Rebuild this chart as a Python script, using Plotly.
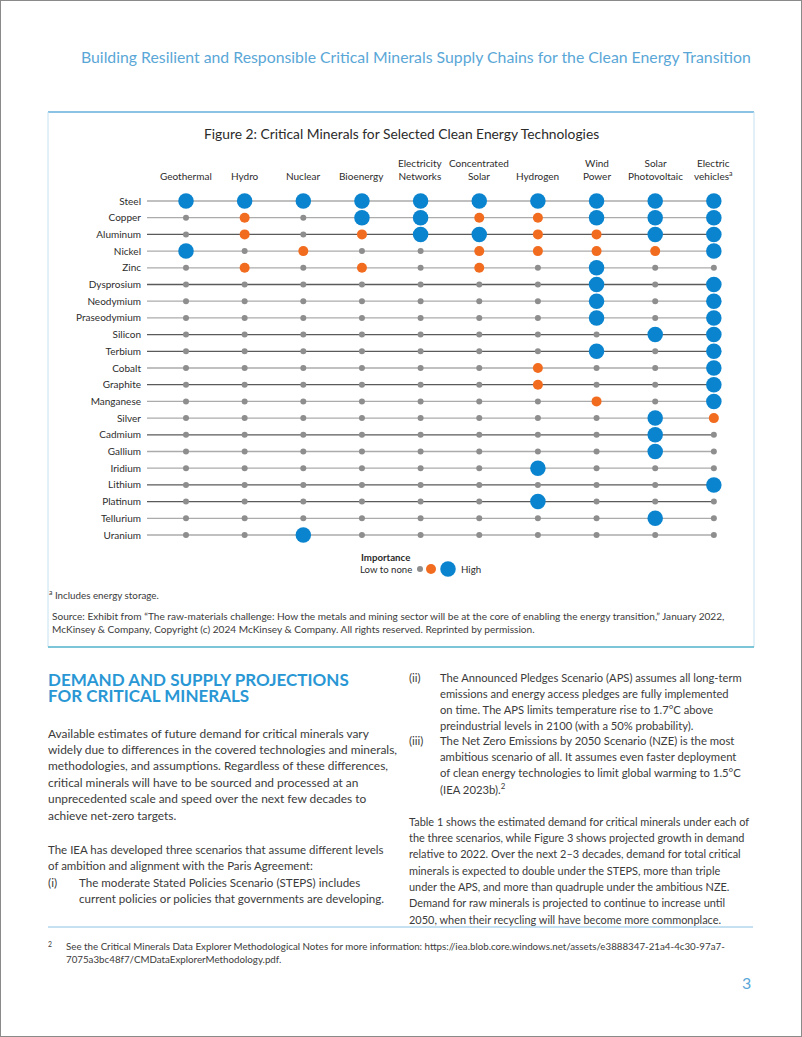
import plotly.graph_objects as go

W, H = 802, 1037

technologies = ["Geothermal", "Hydro", "Nuclear", "Bioenergy", "Electricity<br>Networks",
                "Concentrated<br>Solar", "Hydrogen", "Wind<br>Power", "Solar<br>Photovoltaic",
                "Electric<br>vehicles<sup>a</sup>"]
minerals = ["Steel", "Copper", "Aluminum", "Nickel", "Zinc", "Dysprosium", "Neodymium",
            "Praseodymium", "Silicon", "Terbium", "Cobalt", "Graphite", "Manganese", "Silver",
            "Cadmium", "Gallium", "Iridium", "Lithium", "Platinum", "Tellurium", "Uranium"]
# importance: 0 = low to none, 1 = medium, 2 = high  (columns in technology order)
importance = [
    [2, 2, 2, 2, 2, 2, 2, 2, 2, 2],  # Steel
    [0, 1, 0, 2, 2, 1, 1, 2, 2, 2],  # Copper
    [0, 1, 0, 1, 2, 2, 1, 1, 2, 2],  # Aluminum
    [2, 0, 1, 0, 0, 1, 1, 1, 1, 2],  # Nickel
    [0, 1, 0, 1, 0, 1, 0, 2, 0, 0],  # Zinc
    [0, 0, 0, 0, 0, 0, 0, 2, 0, 2],  # Dysprosium
    [0, 0, 0, 0, 0, 0, 0, 2, 0, 2],  # Neodymium
    [0, 0, 0, 0, 0, 0, 0, 2, 0, 2],  # Praseodymium
    [0, 0, 0, 0, 0, 0, 0, 0, 2, 2],  # Silicon
    [0, 0, 0, 0, 0, 0, 0, 2, 0, 2],  # Terbium
    [0, 0, 0, 0, 0, 0, 1, 0, 0, 2],  # Cobalt
    [0, 0, 0, 0, 0, 0, 1, 0, 0, 2],  # Graphite
    [0, 0, 0, 0, 0, 0, 0, 1, 0, 2],  # Manganese
    [0, 0, 0, 0, 0, 0, 0, 0, 2, 1],  # Silver
    [0, 0, 0, 0, 0, 0, 0, 0, 2, 0],  # Cadmium
    [0, 0, 0, 0, 0, 0, 0, 0, 2, 0],  # Gallium
    [0, 0, 0, 0, 0, 0, 2, 0, 0, 0],  # Iridium
    [0, 0, 0, 0, 0, 0, 0, 0, 0, 2],  # Lithium
    [0, 0, 0, 0, 0, 0, 2, 0, 0, 0],  # Platinum
    [0, 0, 0, 0, 0, 0, 0, 0, 2, 0],  # Tellurium
    [0, 0, 2, 0, 0, 0, 0, 0, 0, 0],  # Uranium
]
legend_levels = [0, 1, 2]

# ---- styles ----
FONT = "Lato"
TXT = "#3b3b3b"
LEVEL_STYLE = {0: ("#8e8e8e", 6), 1: ("#f26c1f", 10), 2: ("#0a84cf", 15.5)}
DARK_ROWS = {"Aluminum", "Dysprosium", "Silicon", "Terbium", "Graphite", "Cadmium", "Lithium", "Platinum"}

# layout geometry (pixels)
COL0, COLSTEP = 186, 58.65
ROW0, ROWSTEP = 201, 16.7
AX_L, AX_R = 147, 714
AX_T, AX_B = 192, 582

x_left = (AX_L - COL0) / COLSTEP
x_right = (AX_R - COL0) / COLSTEP
y_bot = (AX_B - ROW0) / ROWSTEP
y_top = (AX_T - ROW0) / ROWSTEP


def px(x):
    return x / W


def py(y):
    return 1 - y / H


fig = go.Figure()

# row lines
for j, m in enumerate(minerals):
    fig.add_trace(go.Scatter(
        x=[x_left, len(technologies) - 1], y=[j, j], mode="lines",
        line=dict(color="#5a5a5a" if m in DARK_ROWS else "#ababab", width=1.3),
        hoverinfo="skip", showlegend=False))

# dots
for lvl in (0, 1, 2):
    xs, ys = [], []
    for j, row in enumerate(importance):
        for i, v in enumerate(row):
            if v == lvl:
                xs.append(i)
                ys.append(j)
    col, size = LEVEL_STYLE[lvl]
    fig.add_trace(go.Scatter(x=xs, y=ys, mode="markers", cliponaxis=False,
                             marker=dict(color=col, size=size, opacity=1, line=dict(width=0)),
                             showlegend=False, hoverinfo="skip"))

# legend dots (placed below the grid, in the same axes)
leg_px = [420, 431, 448]
leg_py = 569
for p, lvl in zip(leg_px, legend_levels):
    col, size = LEVEL_STYLE[lvl]
    fig.add_trace(go.Scatter(
        x=[(p - COL0) / COLSTEP], y=[(leg_py - ROW0) / ROWSTEP],
        mode="markers", cliponaxis=False, opacity=1,
        marker=dict(color=col, size=size, opacity=1, line=dict(width=0)),
        showlegend=False, hoverinfo="skip"))

fig.update_xaxes(domain=[px(AX_L), px(AX_R)], range=[x_left, x_right], showgrid=False,
                 zeroline=False, showticklabels=False, showline=False, fixedrange=True)
fig.update_yaxes(domain=[py(AX_B), py(AX_T)], range=[y_bot, y_top], showgrid=False,
                 zeroline=False, showline=False, tickmode="array",
                 tickvals=list(range(len(minerals))), ticktext=minerals, ticks="",
                 ticklabelstandoff=5,
                 tickfont=dict(family=FONT, size=10, color="#2d2d2d"), fixedrange=True)

ann = []
# column headers
for i, t in enumerate(technologies):
    ann.append(dict(x=i, xref="x", y=py(184), yref="paper", text=t, showarrow=False,
                    xanchor="center", yanchor="bottom", align="center",
                    font=dict(family=FONT, size=10, color="#2d2d2d")))


def text(x, y, s, size=12, color=TXT, xanchor="left", yanchor="middle", align="left", **kw):
    ann.append(dict(x=px(x), y=py(y), xref="paper", yref="paper", text=s, showarrow=False,
                    xanchor=xanchor, yanchor=yanchor, align=align,
                    font=dict(family=FONT, size=size, color=color, **kw)))


def para(x, y0, lines, step, size, **kw):
    for k, ln in enumerate(lines):
        text(x, y0 + k * step, ln, size=size, **kw)


# page header
text(753, 57, "Building Resilient and Responsible Critical Minerals Supply Chains for the Clean Energy Transition",
     size=15.8, color="#5aa7d7", xanchor="right", align="right")
# figure title
text(401, 133, "Figure 2: Critical Minerals for Selected Clean Energy Technologies",
     size=13.8, color="#2b2b2b", xanchor="center", align="center")

# legend
text(359, 557, "<b>Importance</b>", size=9.7, color="#2b2b2b")
text(358, 569, "Low to none", size=9.6, color="#2b2b2b")
text(459, 569, "High", size=9.7, color="#2b2b2b")

# figure notes
text(47, 594, "<sup>a</sup> Includes energy storage.", size=9.8, color="#3b3b3b")
para(50, 616, ["Source: Exhibit from \u201cThe raw-materials challenge: How the metals and mining sector will be at the core of enabling the energy transition,\u201d January 2022,",
               "McKinsey &amp; Company, Copyright (c) 2024 McKinsey &amp; Company. All rights reserved. Reprinted by permission."],
     13, 10.1, color="#3b3b3b")

# section heading
para(46, 679, ["DEMAND AND SUPPLY PROJECTIONS", "FOR CRITICAL MINERALS"], 16.5, 17,
     color="#2a97d5", weight="bold")

# left column
para(46, 733, ["Available estimates of future demand for critical minerals vary",
               "widely due to differences in the covered technologies and minerals,",
               "methodologies, and assumptions. Regardless of these differences,",
               "critical minerals will have to be sourced and processed at an",
               "unprecedented scale and speed over the next few decades to",
               "achieve net-zero targets."], 16.4, 11.9)
para(46, 849, ["The IEA has developed three scenarios that assume different levels",
               "of ambition and alignment with the Paris Agreement:"], 16.4, 11.5)
text(46, 882, "(i)", size=11.8)
para(77, 882, ["The moderate Stated Policies Scenario (STEPS) includes",
               "current policies or policies that governments are developing."], 16.4, 11.6)

# right column
text(407, 677, "(ii)", size=11.5)
para(438, 677, ["The Announced Pledges Scenario (APS) assumes all long-term",
                "emissions and energy access pledges are fully implemented",
                "on time. The APS limits temperature rise to 1.7\u00b0C above",
                "preindustrial levels in 2100 (with a 50% probability)."], 16, 11.2)
text(407, 740, "(iii)", size=11.5)
para(438, 740, ["The Net Zero Emissions by 2050 Scenario (NZE) is the most",
                "ambitious scenario of all. It assumes even faster deployment",
                "of clean energy technologies to limit global warming to 1.5\u00b0C",
                "(IEA 2023b).<sup>2</sup>"], 16.3, 11.3)
para(407, 821, ["Table 1 shows the estimated demand for critical minerals under each of",
                "the three scenarios, while Figure 3 shows projected growth in demand",
                "relative to 2022. Over the next 2\u20133 decades, demand for total critical",
                "minerals is expected to double under the STEPS, more than triple",
                "under the APS, and more than quadruple under the ambitious NZE.",
                "Demand for raw minerals is projected to continue to increase until",
                "2050, when their recycling will have become more commonplace."], 16.35, 10.95)

# footnote
text(46, 944, "<sup>2</sup>", size=9.8)
para(64, 946, ["See the Critical Minerals Data Explorer Methodological Notes for more information: https://iea.blob.core.windows.net/assets/e3888347-21a4-4c30-97a7-",
               "7075a3bc48f7/CMDataExplorerMethodology.pdf."], 13, 9.75)
# page number
text(753, 982, "3", size=16, color="#5aa7d7", xanchor="right", align="right")

fig.update_layout(annotations=ann)

# shapes: page border, figure box, separator
shapes = [
    dict(type="rect", xref="paper", yref="paper", x0=0, x1=1, y0=0, y1=1,
         line=dict(color="#8a8a8a", width=2)),
    dict(type="line", xref="paper", yref="paper", x0=px(48), x1=px(754), y0=py(112), y1=py(112),
         line=dict(color="#8cc3e4", width=2)),
    dict(type="line", xref="paper", yref="paper", x0=px(48), x1=px(48), y0=py(112), y1=py(647),
         line=dict(color="#c4e0f1", width=1)),
    dict(type="line", xref="paper", yref="paper", x0=px(754), x1=px(754), y0=py(112), y1=py(647),
         line=dict(color="#c4e0f1", width=1)),
    dict(type="line", xref="paper", yref="paper", x0=px(48), x1=px(754), y0=py(647), y1=py(647),
         line=dict(color="#7cc4d8", width=2)),
    dict(type="line", xref="paper", yref="paper", x0=px(48), x1=px(753), y0=py(927), y1=py(927),
         line=dict(color="#8cc3e4", width=1)),
]
fig.update_layout(shapes=shapes)

fig.update_layout(width=W, height=H, margin=dict(l=0, r=0, t=0, b=0),
                  paper_bgcolor="white", plot_bgcolor="rgba(0,0,0,0)", showlegend=False,
                  font=dict(family=FONT))

fig.write_html("out.html", config={"displayModeBar": False},
               post_script="document.body.style.margin='0';document.body.style.overflow='hidden';")
